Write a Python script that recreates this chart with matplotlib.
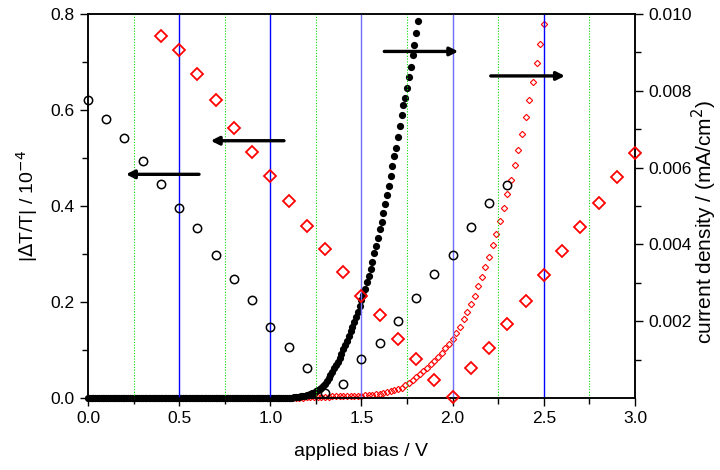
"""Electroabsorption |dT/T| and current density versus applied bias."""
import numpy as np
import matplotlib.pyplot as plt
from matplotlib.ticker import MultipleLocator, FormatStrFormatter

plt.rcParams["font.family"] = ["Liberation Sans", "DejaVu Sans"]

# |dT/T| (1e-4), open circles, 0.0 ... 2.3 V
bias_dt = [0.0, 0.1, 0.2, 0.3, 0.4, 0.5, 0.6, 0.7, 0.8, 0.9, 1.0, 1.1,
           1.2, 1.3, 1.4, 1.5, 1.6, 1.7, 1.8, 1.9, 2.0, 2.1, 2.2, 2.3]
dt_a = [0.621, 0.581, 0.542, 0.494, 0.446, 0.396, 0.354, 0.298, 0.248,
        0.204, 0.148, 0.106, 0.063, 0.011, 0.029, 0.081, 0.115, 0.160,
        0.208, 0.258, 0.298, 0.356, 0.406, 0.444]

# |dT/T| (1e-4), red diamonds, 0.4 ... 3.0 V
bias_dt_b = [0.4, 0.5, 0.6, 0.7, 0.8, 0.9, 1.0, 1.1, 1.2, 1.3, 1.4, 1.5,
             1.6, 1.7, 1.8, 1.9, 2.0, 2.1, 2.2, 2.3, 2.4, 2.5, 2.6, 2.7,
             2.8, 2.9, 3.0]
dt_b = [0.754, 0.725, 0.676, 0.620, 0.562, 0.513, 0.463, 0.410, 0.358,
        0.310, 0.263, 0.213, 0.173, 0.123, 0.081, 0.038, 0.003, 0.063,
        0.104, 0.154, 0.203, 0.256, 0.307, 0.357, 0.407, 0.460, 0.510]

# current density (mA/cm2), filled dots, 0.00 ... 1.81 V in 0.01 V steps
bias_ja = np.linspace(0.0, 1.81, 182)
j_a = [0.0] * 110 + [
    0.00001, 0.00001, 0.00001, 0.00002, 0.00002, 0.00003, 0.00003, 0.00004,
    0.00005, 0.00006, 0.00007, 0.00008, 0.00010, 0.00012, 0.00014, 0.00017,
    0.00020, 0.00023, 0.00027, 0.00031, 0.00037, 0.00043, 0.00052, 0.00059,
    0.00068, 0.00077, 0.00086, 0.00094, 0.00104, 0.00115, 0.00127, 0.00137,
    0.00149, 0.00162, 0.00174, 0.00186, 0.00198, 0.00211, 0.00225, 0.00240,
    0.00255, 0.00268, 0.00285, 0.00301, 0.00318, 0.00336, 0.00355, 0.00377,
    0.00397, 0.00416, 0.00439, 0.00459, 0.00483, 0.00505, 0.00529, 0.00553,
    0.00578, 0.00604, 0.00629, 0.00652, 0.00680, 0.00708, 0.00737, 0.00762,
    0.00780, 0.00808, 0.00836, 0.00863, 0.00893, 0.00919, 0.00950, 0.00983]

# current density (mA/cm2), small red diamonds, 0.00 ... 2.50 V in 0.02 V steps
bias_jb = np.linspace(0.0, 2.50, 126)
j_b = [0.0] * 50 + [0.00001] * 10 + [
    0.00002, 0.00002, 0.00002, 0.00003, 0.00003, 0.00003, 0.00003, 0.00004,
    0.00004, 0.00004, 0.00004, 0.00004, 0.00005, 0.00005, 0.00006, 0.00006,
    0.00007, 0.00008, 0.00009, 0.00010, 0.00011, 0.00013, 0.00015, 0.00017,
    0.00020, 0.00023, 0.00027, 0.00033, 0.00040, 0.00047, 0.00055, 0.00062,
    0.00070, 0.00079, 0.00088, 0.00097, 0.00108, 0.00118, 0.00129, 0.00141,
    0.00154, 0.00168, 0.00186, 0.00205, 0.00224, 0.00245, 0.00266, 0.00291,
    0.00315, 0.00341, 0.00368, 0.00398, 0.00428, 0.00461, 0.00495, 0.00530,
    0.00568, 0.00606, 0.00646, 0.00688, 0.00732, 0.00776, 0.00824, 0.00873,
    0.00923, 0.00974]

blue_lines = [0.5, 1.0, 1.5, 2.0, 2.5]
blue_colors = ["#0000ff", "#0000ff", "#6f6fff", "#6f6fff", "#0000ff"]
green_lines = [0.25, 0.75, 1.25, 1.75, 2.25, 2.75]

fig = plt.figure(figsize=(7.2, 4.7), dpi=100)
ax = fig.add_axes([0.1222, 0.1532, 0.7597, 0.8170])
ax2 = ax.twinx()

for xv in green_lines:
    ax.axvline(xv, color="#00dd00", lw=0.8, ls=(0, (1, 1.5)), zorder=0)
for xv, c in zip(blue_lines, blue_colors):
    ax.axvline(xv, color=c, lw=1.0, zorder=0)

ax.plot(bias_dt, dt_a, "o", ms=6.0, mfc="none", mec="black", mew=1.1,
        clip_on=False, zorder=3)
ax.plot(bias_dt_b, dt_b, "D", ms=5.8, mfc="none", mec="red", mew=1.3,
        clip_on=False, zorder=3)

ax2.plot(bias_jb, j_b, "D", ms=3.2, mfc="none", mec="red", mew=0.8,
         clip_on=False, zorder=2)
ax2.plot(bias_ja, j_a, "o", ms=5.2, color="black", mew=0, clip_on=False,
         zorder=3)

ax.set_zorder(ax2.get_zorder() + 1)
ax.patch.set_visible(False)

# direction arrows
arrow = dict(arrowstyle="-|>", color="black", lw=2.4, mutation_scale=12,
             shrinkA=0, shrinkB=0)
ax.annotate("", xy=(0.208, 0.466), xytext=(0.609, 0.466), arrowprops=arrow)
ax.annotate("", xy=(0.673, 0.536), xytext=(1.075, 0.536), arrowprops=arrow)
ax.annotate("", xy=(2.031, 0.722), xytext=(1.625, 0.722), arrowprops=arrow)
ax.annotate("", xy=(2.616, 0.671), xytext=(2.209, 0.671), arrowprops=arrow)

ax.set_xlim(0, 3.0)
ax.set_ylim(0, 0.8)
ax2.set_ylim(0, 0.010)

ax.xaxis.set_major_locator(MultipleLocator(0.5))
ax.xaxis.set_minor_locator(MultipleLocator(0.25))
ax.xaxis.set_major_formatter(FormatStrFormatter("%.1f"))
ax.yaxis.set_major_locator(MultipleLocator(0.2))
ax.yaxis.set_minor_locator(MultipleLocator(0.1))
ax.yaxis.set_major_formatter(FormatStrFormatter("%.1f"))
ax2.set_yticks([0.002, 0.004, 0.006, 0.008, 0.010])
ax2.set_yticks([0.001, 0.003, 0.005, 0.007, 0.009], minor=True)
ax2.yaxis.set_major_formatter(FormatStrFormatter("%.3f"))

for a in (ax, ax2):
    a.tick_params(which="both", direction="out", width=1.0, labelsize=12.5,
                  top=False)
    a.tick_params(which="major", length=6)
    a.tick_params(which="minor", length=4)
    for s in a.spines.values():
        s.set_linewidth(1.1)

ax.set_xlabel("applied bias / V", fontsize=14, labelpad=12)
ax.set_ylabel(r"|$\Delta$T/T| / 10$^{-4}$", fontsize=14, labelpad=8)
ax2.set_ylabel("current density / (mA/cm$^2$)", fontsize=15)
ax2.yaxis.set_label_coords(1.100, 0.458)

fig.savefig("out.png", dpi=100)
